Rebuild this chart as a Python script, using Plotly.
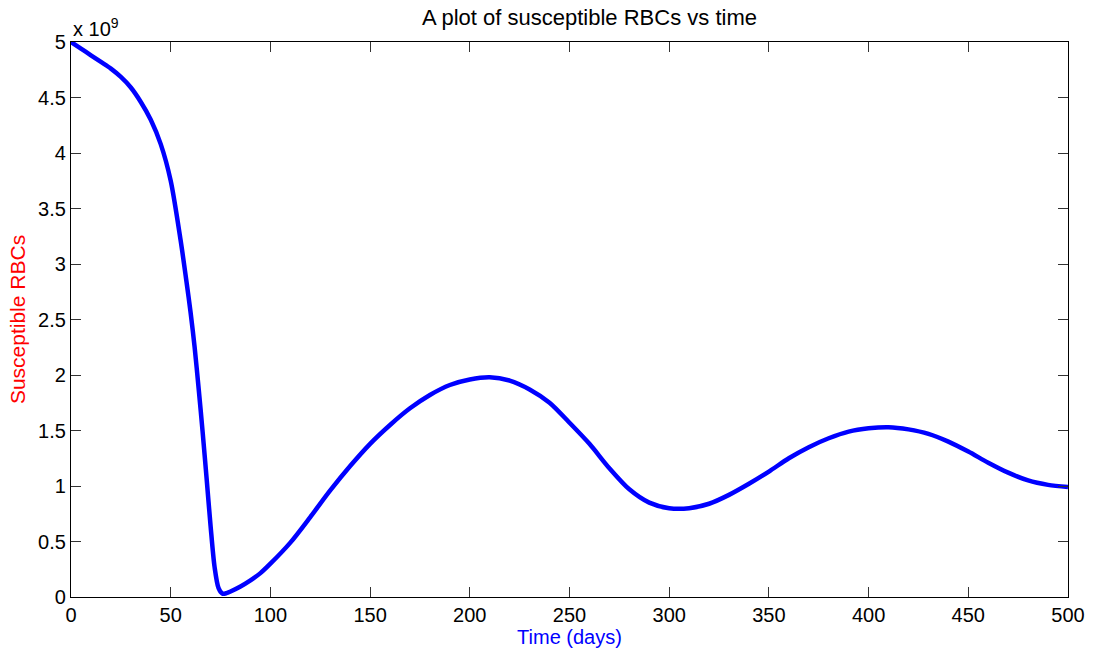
import plotly.graph_objects as go

# Time (days)
time_days = [0, 5, 10, 15, 20, 25, 30, 35, 40, 45, 50, 55, 58, 60, 62, 64, 66, 68, 70, 72, 74,
             76, 78, 80, 85, 90, 95, 100, 110, 120, 130, 140, 150, 160, 170, 180, 190, 200,
             210, 220, 230, 240, 250, 260, 270, 280, 290, 300, 310, 320, 330, 340, 350, 360,
             370, 380, 390, 400, 410, 420, 430, 440, 450, 460, 470, 480, 490, 500]
# Susceptible RBCs (units of 1e9)
susceptible_e9 = [5.00, 4.94, 4.88, 4.82, 4.76, 4.685, 4.59, 4.46, 4.30, 4.08, 3.75, 3.21, 2.83,
                  2.56, 2.25, 1.88, 1.49, 1.07, 0.64, 0.27, 0.08, 0.03, 0.035, 0.05, 0.095, 0.15,
                  0.215, 0.30, 0.49, 0.72, 0.96, 1.18, 1.38, 1.55, 1.70, 1.82, 1.91, 1.96, 1.98,
                  1.95, 1.87, 1.75, 1.57, 1.38, 1.16, 0.97, 0.85, 0.80, 0.80, 0.84, 0.92, 1.02,
                  1.13, 1.25, 1.35, 1.43, 1.49, 1.52, 1.53, 1.51, 1.47, 1.40, 1.31, 1.21, 1.12,
                  1.05, 1.01, 0.99]

x_ticks = [0, 50, 100, 150, 200, 250, 300, 350, 400, 450, 500]
y_ticks = [0, 0.5, 1, 1.5, 2, 2.5, 3, 3.5, 4, 4.5, 5]
y_tick_labels = ["0", "0.5", "1", "1.5", "2", "2.5", "3", "3.5", "4", "4.5", "5"]

FONT = "Liberation Sans, Arial, Helvetica, sans-serif"

fig = go.Figure()
fig.add_trace(go.Scatter(x=time_days, y=susceptible_e9, mode="lines",
                         line=dict(color="#0000ff", width=4.5, shape="spline", smoothing=0.8),
                         showlegend=False))

axis_common = dict(showline=True, linecolor="black", linewidth=1.2, mirror="ticks",
                   ticks="inside", ticklen=10, tickwidth=1, tickcolor="#333333",
                   showgrid=False, zeroline=False, automargin=False,
                   tickfont=dict(family=FONT, size=20, color="black"))

fig.update_layout(
    width=1093, height=655,
    margin=dict(l=71, r=25, t=42, b=58),
    paper_bgcolor="white", plot_bgcolor="white",
    title=dict(text="A plot of susceptible RBCs vs time", xref="paper", x=0.52, xanchor="center",
               y=0.973, yanchor="middle",
               font=dict(family=FONT, size=22, color="black")),
    xaxis=dict(range=[0, 500], tickvals=x_ticks,
               title=dict(text="Time (days)", font=dict(family=FONT, size=20, color="#0000ff"),
                          standoff=4),
               **axis_common),
    yaxis=dict(range=[0, 5], tickvals=y_ticks, ticktext=y_tick_labels,
               title=dict(text="Susceptible RBCs", font=dict(family=FONT, size=21, color="#ff0000"),
                          standoff=6),
               **axis_common),
    annotations=[dict(text="x 10<sup>9</sup>", xref="paper", yref="paper", x=0, y=1,
                      xanchor="left", yanchor="bottom", showarrow=False,
                      font=dict(family=FONT, size=20, color="black"))],
)

fig.write_html("out.html")
